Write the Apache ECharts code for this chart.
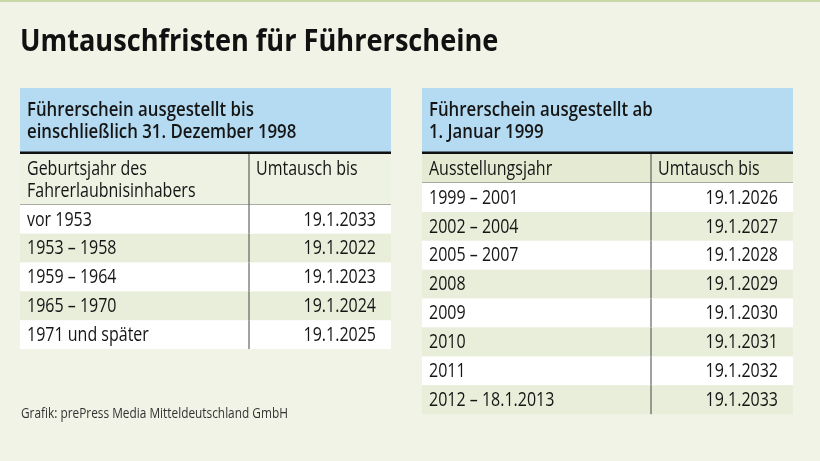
<!DOCTYPE html>
<html><head><meta charset="utf-8">
<script src="https://cdn.jsdelivr.net/npm/echarts@6/dist/echarts.min.js"></script>
<style>html,body{margin:0;padding:0;background:#f0f3e5}#c{width:820px;height:461px}</style>
</head><body><div id="c"></div>
<script>
const FONT = '"Open Sans",sans-serif';
const title = 'Umtauschfristen für Führerscheine';
const source = 'Grafik: prePress Media Mitteldeutschland GmbH';

const leftHeader = ['Führerschein ausgestellt bis', 'einschließlich 31. Dezember 1998'];
const leftColHeads = ['Geburtsjahr des\nFahrerlaubnisinhabers', 'Umtausch bis'];
const leftCats = ['vor 1953', '1953 – 1958', '1959 – 1964', '1965 – 1970', '1971 und später'];
const leftValues = ['19.1.2033', '19.1.2022', '19.1.2023', '19.1.2024', '19.1.2025'];

const rightHeader = ['Führerschein ausgestellt ab', '1. Januar 1999'];
const rightColHeads = ['Ausstellungsjahr', 'Umtausch bis'];
const rightCats = ['1999 – 2001', '2002 – 2004', '2005 – 2007', '2008', '2009', '2010', '2011', '2012 – 18.1.2013'];
const rightValues = ['19.1.2026', '19.1.2027', '19.1.2028', '19.1.2029', '19.1.2030', '19.1.2031', '19.1.2032', '19.1.2033'];

const chart = echarts.init(document.getElementById('c'), null, {renderer: 'canvas'});

const SX = 0.8; // condensed look
function txt(text, x, y, size, weight, align, va, sx, fill, lh) {
  return {type: 'text', x: x, y: y, scaleX: sx || SX,
    style: {text: text, x: 0, y: 0, fill: fill || '#151515',
      font: (weight || 'normal') + ' ' + size + 'px ' + FONT,
      align: align || 'left', verticalAlign: va || 'middle', lineHeight: lh}};
}

function renderRow(cats, vals, divFrac) {
  return function (params, api) {
    const i = api.value(0);
    const c0 = api.coord([0, i]);
    const c1 = api.coord([1, i]);
    const h = api.size([0, 1])[1];
    const x0 = c0[0], x1 = c1[0], y = c0[1];
    const xd = x0 + (x1 - x0) * divFrac;
    return {
      type: 'group',
      children: [
        {type: 'rect', shape: {x: x0, y: y - h / 2, width: x1 - x0, height: h},
         style: {fill: i % 2 === 0 ? '#ffffff' : '#e8eed9'}},
        txt(cats[i], x0 + 7, y + 0.5, 20, 'normal', 'left'),
        txt(vals[i], x1 - 15, y + 0.5, 20, 'normal', 'right'),
        {type: 'line', shape: {x1: xd, y1: y - h / 2, x2: xd, y2: y + h / 2},
          style: {stroke: '#444', lineWidth: 1}}
      ]
    };
  };
}

const L = {x: 20, w: 371, top: 205, rows: leftCats.length, rowH: 28.8, div: 249};
const R = {x: 422, w: 371, top: 183, rows: rightCats.length, rowH: 28.9, div: 651};

function hiddenAxis(type, idx, extra) {
  return Object.assign({type: type, gridIndex: idx, show: false}, extra || {});
}

const graphics = [
  {type: 'rect', shape: {x: 0, y: 0, width: 820, height: 2}, style: {fill: '#c9d8a6'}},
  txt(title, 20, 42, 30, 'bold', 'left', 'middle', 0.905, '#111'),
  txt(source, 21, 414, 15, 'normal', 'left', 'middle', 0.79, '#333')
];

function tableHeader(T, head, colHeads, headRowBottom, headFill) {
  graphics.push(
    {type: 'rect', shape: {x: T.x, y: 88, width: T.w, height: 64}, style: {fill: '#b4dbf1'}},
    txt(head[0], T.x + 7, 110, 20, '600', 'left', 'middle', 0.84),
    txt(head[1], T.x + 7, 132, 20, '600', 'left', 'middle', 0.84),
    {type: 'rect', shape: {x: T.x, y: 154, width: T.w, height: headRowBottom - 154}, style: {fill: headFill}},
    {type: 'rect', shape: {x: T.x, y: 151.5, width: T.w, height: 2.5}, style: {fill: '#111'}},
    txt(colHeads[0], T.x + 7, 158, 20, 'normal', 'left', 'top', SX, '#151515', 22),
    txt(colHeads[1], T.div + 7, 158, 20, 'normal', 'left', 'top', SX, '#151515', 22),
    {type: 'line', shape: {x1: T.div, y1: 154, x2: T.div, y2: headRowBottom}, style: {stroke: '#444', lineWidth: 1}},
    {type: 'line', shape: {x1: T.x, y1: headRowBottom, x2: T.x + T.w, y2: headRowBottom}, style: {stroke: '#666', lineWidth: 1}}
  );
}
tableHeader(L, leftHeader, leftColHeads, L.top, '#eef2e2');
tableHeader(R, rightHeader, rightColHeads, R.top, '#e5ebd3');

const option = {
  backgroundColor: '#f0f3e5',
  animation: false,
  grid: [
    {left: L.x, top: L.top, width: L.w, height: L.rowH * L.rows},
    {left: R.x, top: R.top, width: R.w, height: R.rowH * R.rows}
  ],
  xAxis: [
    hiddenAxis('value', 0, {min: 0, max: 1}),
    hiddenAxis('value', 1, {min: 0, max: 1})
  ],
  yAxis: [
    hiddenAxis('category', 0, {data: leftCats, inverse: true}),
    hiddenAxis('category', 1, {data: rightCats, inverse: true})
  ],
  series: [
    {type: 'custom', xAxisIndex: 0, yAxisIndex: 0, silent: true,
     renderItem: renderRow(leftCats, leftValues, (L.div - L.x) / L.w),
     data: leftCats.map((c, i) => [i])},
    {type: 'custom', xAxisIndex: 1, yAxisIndex: 1, silent: true,
     renderItem: renderRow(rightCats, rightValues, (R.div - R.x) / R.w),
     data: rightCats.map((c, i) => [i])}
  ],
  graphic: graphics
};
chart.setOption(option);
</script>
</body></html>
